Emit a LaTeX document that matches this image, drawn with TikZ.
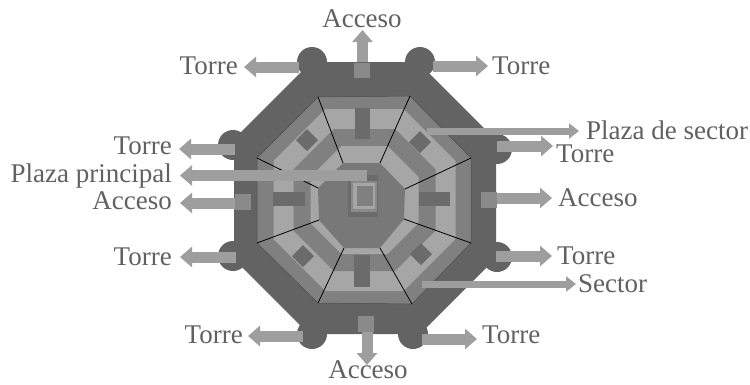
\documentclass[tikz,border=0pt]{standalone}
\usepackage{fontspec}
\setmainfont{Liberation Serif}
\usetikzlibrary{arrows.meta}
\definecolor{wallc}{gray}{0.39}
\definecolor{bandc}{gray}{0.50}
\definecolor{lightc}{gray}{0.65}
\definecolor{plazac}{gray}{0.47}
\definecolor{blockc}{gray}{0.42}
\definecolor{arrowc}{gray}{0.62}
\definecolor{gatec}{gray}{0.54}
\definecolor{textc}{gray}{0.38}
\newcommand{\octagonpath}[2]{%
  \path[#1] ({364.5-0.43*#2},{200-#2}) -- ({364.5+0.43*#2},{200-#2}) -- ({364.5+#2},{200-0.43*#2}) -- ({364.5+#2},{200+0.43*#2}) --
  ({364.5+0.43*#2},{200+#2}) -- ({364.5-0.43*#2},{200+#2}) -- ({364.5-#2},{200+0.43*#2}) -- ({364.5-#2},{200-0.43*#2}) -- cycle;}
\tikzset{
  x=1pt,y=-1pt,
  label text/.style={text=textc,inner sep=0pt,font=\fontsize{27}{27}\selectfont},
  lab west/.style={label text,anchor=base west},
  lab east/.style={label text,anchor=base east},
  lab mid/.style={label text,anchor=base},
  big arrow/.style={draw=arrowc,line width=11pt,-{Triangle[length=12pt,width=20pt]}},
  thin arrow/.style={draw=arrowc,line width=7pt,-{Triangle[length=10pt,width=15pt]}},
  gate/.style={fill=gatec,draw=none},
  block/.style={fill=blockc,draw=none},
  divider/.style={draw=black,line width=0.8pt},
}
\begin{document}
\begin{tikzpicture}
\useasboundingbox (0,0) rectangle (750,384);
\fill[white] (0,0) rectangle (750,384);
% towers
\foreach \cx/\cy in {312/62,420/62,233/145,497/149,233/256,497/257,312/334,413/334}
  \fill[wallc] (\cx,\cy) circle[radius=15];
% outer wall
\fill[wallc] (311,62) -- (418,62) -- (496,140) -- (496,258) -- (420,334) -- (309,334) -- (234,259) -- (234,139) -- cycle;
% concentric bands
\filldraw[fill=bandc,draw=black!70,line width=0.5pt] (318,97) -- (410,96) -- (471,158) -- (471,243) -- (412,304) -- (318,303) -- (257,243) -- (257,158) -- cycle;
\octagonpath{fill=lightc}{91}
\octagonpath{fill=bandc}{71}
\octagonpath{fill=lightc}{54}
\fill[plazac] (343,163) -- (380,163) -- (405,189) -- (404,219) -- (380,248) -- (344,248) -- (319,220) -- (318,188) -- cycle;
% sector squares
\fill[block] (355,108) rectangle (370,139);
\fill[block] (354,255) rectangle (370,287);
\fill[block] (273,192) rectangle (305,206);
\fill[block] (419,192) rectangle (450,206);
\foreach \cx/\cy in {307/140,420/142,303/256,421/254}
  \fill[block] (\cx-11,\cy) -- (\cx,\cy-11) -- (\cx+11,\cy) -- (\cx,\cy+11) -- cycle;
% keep
\fill[blockc] (348,175) rectangle (378,217);
\fill[gatec] (351,181) rectangle (377,212);
\fill[lightc] (353,183) rectangle (375,209);
\fill[bandc] (357,186) rectangle (373,206);
% sector dividers
\coordinate (d1a) at (318,97);  \coordinate (d1b) at (343,163);
\coordinate (d2a) at (410,96);  \coordinate (d2b) at (380,163);
\coordinate (d3a) at (471,158); \coordinate (d3b) at (405,189);
\coordinate (d4a) at (471,243); \coordinate (d4b) at (404,219);
\coordinate (d5a) at (412,304); \coordinate (d5b) at (380,248);
\coordinate (d6a) at (318,303); \coordinate (d6b) at (344,248);
\coordinate (d7a) at (257,243); \coordinate (d7b) at (319,220);
\coordinate (d8a) at (257,158); \coordinate (d8b) at (318,188);
\foreach \i in {1,...,8} \draw[divider] (d\i a) -- (d\i b);
% labels
\node[lab mid]  (lAccT) at (362,27) {Acceso};
\node[lab east] (lTTL)  at (238,74) {Torre};
\node[lab west] (lTTR)  at (492,74) {Torre};
\node[lab west] (lPS)   at (586,139) {Plaza de sector};
\node[lab west] (lTR1)  at (556,162) {Torre};
\node[lab east] (lTL1)  at (172,154) {Torre};
\node[lab east] (lPP)   at (172,182) {Plaza principal};
\node[lab east] (lAccL) at (172,209) {Acceso};
\node[lab west] (lAccR) at (558,206) {Acceso};
\node[lab west] (lTR2)  at (557,264) {Torre};
\node[lab east] (lTL2)  at (172,265) {Torre};
\node[lab west] (lSec)  at (578,292) {Sector};
\node[lab east] (lTBL)  at (243,343) {Torre};
\node[lab west] (lTBR)  at (482,343) {Torre};
\node[lab mid]  (lAccB) at (368,378) {Acceso};
% arrow ends
\coordinate (aT0) at (362.5,62);  \coordinate (aT1) at (362.5,30);
\coordinate (aB0) at (367,320);   \coordinate (aB1) at (367,365);
\coordinate (aL0) at (237,203);   \coordinate (aL1) at (180,203);
\coordinate (aR0) at (497,198);   \coordinate (aR1) at (552,198);
\coordinate (t1a) at (299,67);    \coordinate (t1b) at (244,67);
\coordinate (t2a) at (433,66);    \coordinate (t2b) at (488,66);
\coordinate (t3a) at (235,149);   \coordinate (t3b) at (179,149);
\coordinate (t4a) at (497,146);   \coordinate (t4b) at (553,146);
\coordinate (t5a) at (236,257);   \coordinate (t5b) at (180,257);
\coordinate (t6a) at (496,256);   \coordinate (t6b) at (552,256);
\coordinate (t7a) at (303,336);   \coordinate (t7b) at (248,336);
\coordinate (t8a) at (422,339);   \coordinate (t8b) at (477,339);
\coordinate (pPa) at (367,175.5); \coordinate (pPb) at (180,175.5);
\coordinate (pSa) at (427,131);   \coordinate (pSb) at (579,131);
\coordinate (sEa) at (422,284);   \coordinate (sEb) at (576,284);
% arrows
\foreach \a/\b in {aT0/aT1,aB0/aB1,aL0/aL1,aR0/aR1,t1a/t1b,t2a/t2b,t3a/t3b,t4a/t4b,t5a/t5b,t6a/t6b,t7a/t7b,t8a/t8b,pPa/pPb}
  \draw[big arrow] (\a) -- (\b);
\foreach \a/\b in {pSa/pSb,sEa/sEb}
  \draw[thin arrow] (\a) -- (\b);
% gates
\fill[gate] (354,63) rectangle (370,78);
\fill[gate] (358,316) rectangle (374,332);
\fill[gate] (235,194) rectangle (251,210);
\fill[gate] (481,192) rectangle (497,208);
\end{tikzpicture}
\end{document}
